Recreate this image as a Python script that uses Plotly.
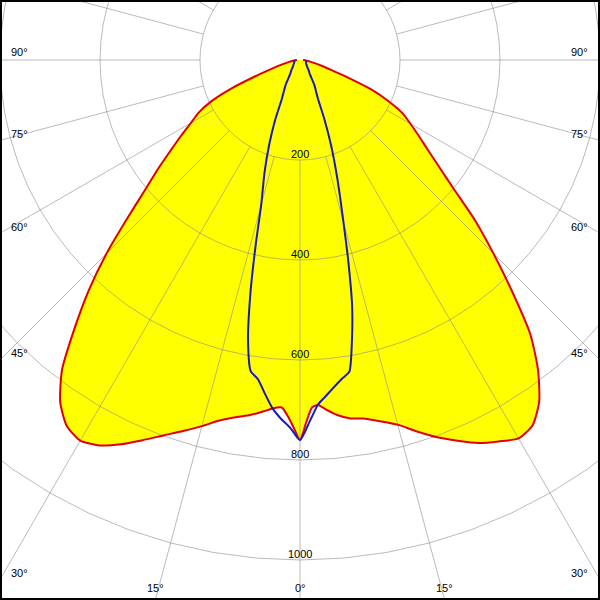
import numpy as np
import plotly.graph_objects as go

# ---------------- data (cd per gamma angle) ----------------
gamma_red = [0, 1, 2, 3, 4.5, 6, 8, 10, 12.5, 15, 17.5, 20, 22.5, 25, 27.5, 30,
             32.5, 35, 37.5, 40, 42.5, 45, 47.5, 50, 52.5, 55, 57.5, 60, 62.5,
             65, 67.5, 70, 72.5, 75, 80, 85, 90]
red_c180 = [760, 735, 712, 696, 699, 707, 717, 725, 738, 758, 778, 799, 823, 848,
            869, 879, 868, 836, 782, 702, 626, 547, 468, 405, 358, 316, 282, 252,
            229, 196, 148, 95, 62, 45, 22, 12, 6]
red_c0 = [760, 724, 695, 691, 703, 714, 724, 728, 740, 755, 779, 803, 824, 845,
          860, 874, 866, 834, 782, 717, 628, 547, 475, 402, 350, 311, 281, 255,
          232, 196, 155, 100, 64, 46, 22, 12, 6]

gamma_blue = [0, 1.5, 3, 4.5, 6, 7.5, 9, 10.5, 12, 13.5, 15, 17.5, 20, 22.5, 25,
              30, 35, 40, 45, 50, 60, 70, 80, 90]
blue_c270 = [760, 736, 719, 699, 671, 644, 630, 570, 477, 379, 300, 236, 180, 130,
             86, 57, 34, 27, 21, 18, 14, 12, 11, 10]
blue_c90 = [760, 724, 690, 673, 657, 643, 631, 570, 501, 414, 336, 248, 182, 126,
            84, 57, 34, 27, 21, 18, 14, 13, 12, 12]

ring_values = [200, 400, 600, 800, 1000]
ring_labels = ["200", "400", "600", "800", "1000"]
spoke_angles = list(range(0, 360, 15))
angle_labels = ["90°", "75°", "60°", "45°", "30°", "15°", "0°",
                "15°", "30°", "45°", "60°", "75°", "90°"]


def to_xy(g, r, side):
    g = np.radians(np.asarray(g, dtype=float))
    r = np.asarray(r, dtype=float)
    return side * r * np.sin(g), -r * np.cos(g)


# red closed outline: C180 half (left, 90 -> 0) then C0 half (right, 0 -> 90)
xl, yl = to_xy(gamma_red, red_c180, -1)
xr, yr = to_xy(gamma_red, red_c0, 1)
red_x = np.concatenate([xl[::-1], xr[1:]])
red_y = np.concatenate([yl[::-1], yr[1:]])

bl_x, bl_y = to_xy(gamma_blue, blue_c270, -1)
br_x, br_y = to_xy(gamma_blue, blue_c90, 1)
blue_x = np.concatenate([bl_x[::-1], br_x[1:]])
blue_y = np.concatenate([bl_y[::-1], br_y[1:]])

# grid: rings (5 degree polylines) and spokes
gx, gy = [], []
t = np.radians(np.arange(0, 361, 5))
for v in ring_values:
    gx += list(v * np.sin(t)) + [None]
    gy += list(-v * np.cos(t)) + [None]
for a in spoke_angles:
    ar = np.radians(a)
    gx += [ring_values[0] * np.sin(ar), 1500 * np.sin(ar), None]
    gy += [-ring_values[0] * np.cos(ar), -1500 * np.cos(ar), None]

SMOOTH = 0.6
fig = go.Figure()
fig.add_trace(go.Scatter(x=red_x, y=red_y, mode="lines", fill="toself",
                         fillcolor="#ffff00",
                         line=dict(width=0, color="#ffff00", shape="spline",
                                   smoothing=SMOOTH),
                         hoverinfo="skip"))
fig.add_trace(go.Scatter(x=gx, y=gy, mode="lines",
                         line=dict(color="rgba(140,140,140,0.6)", width=1),
                         hoverinfo="skip"))
fig.add_trace(go.Scatter(x=red_x, y=red_y, mode="lines",
                         line=dict(color="rgb(225,0,0)", width=2, shape="spline",
                                   smoothing=SMOOTH),
                         hoverinfo="skip"))
fig.add_trace(go.Scatter(x=blue_x, y=blue_y, mode="lines",
                         line=dict(color="rgb(25,25,190)", width=2, shape="spline",
                                   smoothing=SMOOTH),
                         hoverinfo="skip"))

font = dict(family="Liberation Sans, Arial, sans-serif", size=11, color="black")
annotations = []
for v, lab in zip(ring_values, ring_labels):
    annotations.append(dict(x=0, y=-v, xref="x", yref="y", text=lab, showarrow=False,
                            yanchor="middle", xanchor="center", yshift=6, font=font))

# angle labels at the frame (pixel positions)
label_pos = [(9, 52, "left"), (9, 134, "left"), (9, 227, "left"), (9, 353, "left"),
             (9, 573, "left"), (155, 588, "center"), (300, 588, "center"),
             (444, 588, "center"), (590, 573, "right"), (590, 353, "right"),
             (590, 227, "right"), (590, 134, "right"), (590, 52, "right")]
for (px, py, anc), lab in zip(label_pos, angle_labels):
    annotations.append(dict(x=px / 600, y=1 - py / 600, xref="paper", yref="paper",
                            text=lab, showarrow=False, xanchor=anc, yanchor="middle",
                            font=font))

fig.update_layout(
    width=600, height=600, margin=dict(l=0, r=0, t=0, b=0),
    paper_bgcolor="white", plot_bgcolor="white", showlegend=False,
    xaxis=dict(range=[-600, 600], visible=False, fixedrange=True),
    yaxis=dict(range=[-1080, 120], visible=False, fixedrange=True),
    annotations=annotations,
    shapes=[dict(type="rect", xref="paper", yref="paper", x0=0, y0=0, x1=1, y1=1,
                 line=dict(color="black", width=4), layer="above")],
)

fig.write_html(
    "out.html",
    config={"displayModeBar": False, "staticPlot": True},
    post_script="document.body.style.margin='0';document.body.style.padding='0';"
                "document.body.style.overflow='hidden';",
)
